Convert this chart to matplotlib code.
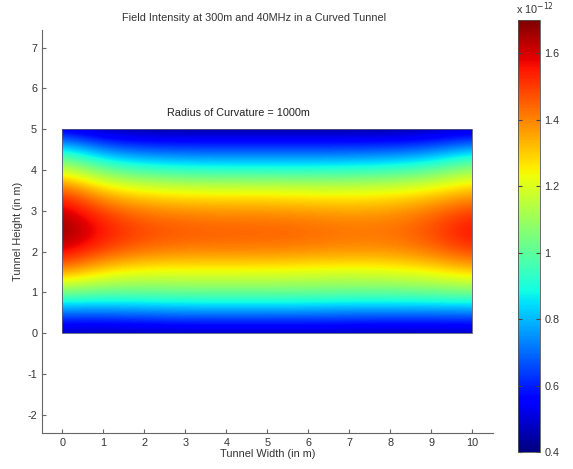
import numpy as np
import matplotlib
matplotlib.use("Agg")
from matplotlib import pyplot as plt
from matplotlib.patches import Rectangle

plt.rcParams["font.family"] = ["Liberation Sans", "DejaVu Sans"]
plt.rcParams["font.size"] = 7.8
plt.rcParams["axes.unicode_minus"] = False

# grid positions (m)
widths = [0, 1, 2, 3, 4, 5, 6, 7, 8, 9, 10]
heights = [0, 0.5, 1, 1.5, 2, 2.5, 3, 3.5, 4, 4.5, 5]

# field intensity (x 1e-12), rows = heights from 0 to 5, cols = widths 0..10
field = [
    [0.45, 0.44, 0.44, 0.45, 0.45, 0.45, 0.45, 0.45, 0.44, 0.44, 0.45],
    [0.70, 0.70, 0.72, 0.73, 0.73, 0.73, 0.73, 0.72, 0.72, 0.72, 0.72],
    [1.05, 1.02, 1.02, 1.03, 1.03, 1.03, 1.03, 1.02, 1.02, 1.03, 1.05],
    [1.38, 1.26, 1.22, 1.22, 1.22, 1.22, 1.21, 1.20, 1.21, 1.24, 1.30],
    [1.60, 1.48, 1.42, 1.40, 1.40, 1.40, 1.39, 1.38, 1.38, 1.42, 1.50],
    [1.70, 1.56, 1.49, 1.47, 1.46, 1.46, 1.45, 1.43, 1.43, 1.48, 1.58],
    [1.63, 1.48, 1.41, 1.39, 1.38, 1.38, 1.37, 1.36, 1.37, 1.42, 1.50],
    [1.48, 1.30, 1.24, 1.22, 1.22, 1.22, 1.21, 1.21, 1.22, 1.26, 1.33],
    [1.20, 1.03, 0.96, 0.93, 0.92, 0.92, 0.92, 0.93, 0.95, 1.00, 1.12],
    [0.90, 0.72, 0.67, 0.66, 0.66, 0.66, 0.66, 0.66, 0.67, 0.70, 0.80],
    [0.50, 0.44, 0.42, 0.42, 0.42, 0.42, 0.42, 0.42, 0.42, 0.44, 0.47],
]

cbar_ticks = [0.4, 0.6, 0.8, 1.0, 1.2, 1.4, 1.6]
cbar_labels = ["0.4", "0.6", "0.8", "1", "1.2", "1.4", "1.6"]

fig = plt.figure(figsize=(5.73, 4.69), dpi=100)
ax = fig.add_axes([0.0733, 0.0768, 0.787, 0.859])
cax = fig.add_axes([0.904, 0.036, 0.038, 0.921])

Z = np.array(field)
dx = widths[1] - widths[0]
dy = heights[1] - heights[0]
ext = [widths[0] - dx / 2, widths[-1] + dx / 2, heights[0] - dy / 2, heights[-1] + dy / 2]
im = ax.imshow(Z, origin="lower", extent=ext, cmap="jet", vmin=0.4, vmax=1.70,
               interpolation="bicubic", aspect="auto")
clip = Rectangle((widths[0], heights[0]), widths[-1] - widths[0], heights[-1] - heights[0],
                 transform=ax.transData, facecolor="none")
im.set_clip_path(clip)
ax.add_patch(Rectangle((widths[0], heights[0]), widths[-1] - widths[0], heights[-1] - heights[0],
                       facecolor="none", edgecolor="#555577", lw=0.6))

ax.set_xlim(-0.5, 10.5)
ax.set_ylim(-2.45, 7.43)
ax.set_xticks(range(0, 11))
ax.set_yticks(range(-2, 8))
for s in ["top", "right"]:
    ax.spines[s].set_visible(False)
for s in ["left", "bottom"]:
    ax.spines[s].set_color("#666666")
ax.tick_params(direction="in", length=3, colors="#666666", labelcolor="#333333")

fig.text(254 / 573, 1 - 18 / 469, "Field Intensity at 300m and 40MHz in a Curved Tunnel",
         ha="center", va="center", color="#333333")
ax.text(4.3, 5.39, "Radius of Curvature = 1000m", ha="center", va="center",
        color="#222222")
ax.set_xlabel("Tunnel Width (in m)", color="#333333", labelpad=1)
ax.set_ylabel("Tunnel Height (in m)", color="#333333", labelpad=3)

cb = fig.colorbar(im, cax=cax, ticks=cbar_ticks)
cb.ax.set_yticklabels(cbar_labels)
cb.ax.tick_params(direction="in", length=3, left=True, right=True,
                  colors="#444444", labelcolor="#333333")
cb.outline.set_edgecolor("#555555")
cb.outline.set_linewidth(0.6)
fig.text(516 / 573, 1 - 9 / 469, r"x 10$^{-12}$", ha="left", va="center",
         color="#333333")

fig.savefig("out.png", dpi=100)
